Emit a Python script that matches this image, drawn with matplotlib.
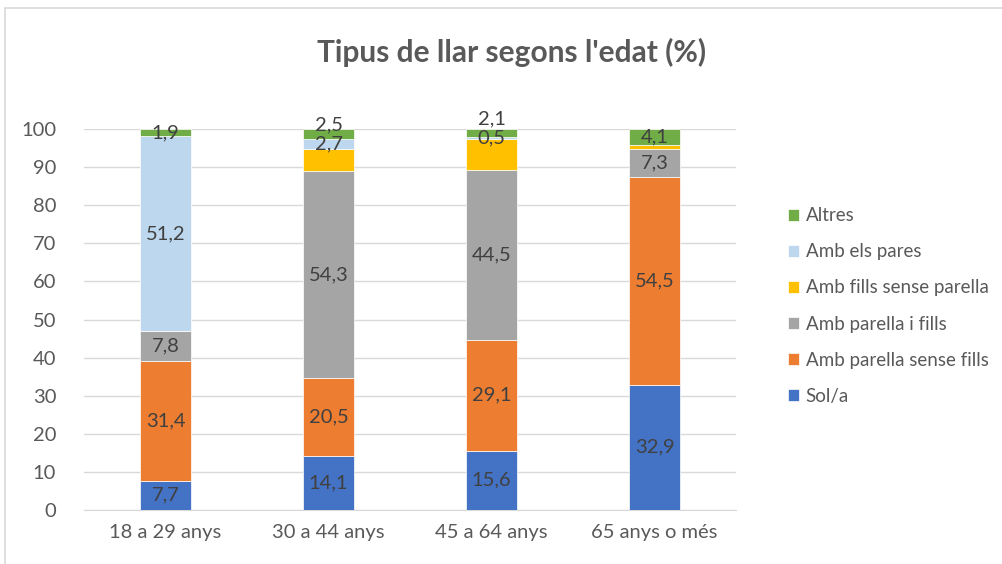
import matplotlib.pyplot as plt
import numpy as np
from matplotlib.patches import Rectangle

plt.rcParams['font.family'] = ['Lato', 'DejaVu Sans']

categories = ['18 a 29 anys', '30 a 44 anys', '45 a 64 anys', '65 anys o més']
series = ['Sol/a', 'Amb parella sense fills', 'Amb parella i fills',
          'Amb fills sense parella', 'Amb els pares', 'Altres']
sola = [7.7, 14.1, 15.6, 32.9]
parella_sense_fills = [31.4, 20.5, 29.1, 54.5]
parella_i_fills = [7.8, 54.3, 44.5, 7.3]
fills_sense_parella = [0.0, 5.9, 8.2, 1.2]
pares = [51.2, 2.7, 0.5, 0.0]
altres = [1.9, 2.5, 2.1, 4.1]
values = [sola, parella_sense_fills, parella_i_fills, fills_sense_parella, pares, altres]
colors = ['#4472C4', '#ED7D31', '#A5A5A5', '#FFC000', '#BDD7EE', '#70AD47']
show_labels = [True, True, True, False, True, True]

fig = plt.figure(figsize=(10.03, 5.64), dpi=100)
fig.patches.append(Rectangle((5 / 1003, -0.05), 1.1, 1 - 8 / 564 + 0.05,
                             transform=fig.transFigure, fill=False,
                             edgecolor='#D9D9D9', linewidth=1.2))
ax = fig.add_axes([84 / 1003, 1 - 510 / 564, 652 / 1003, 381 / 564])

x = np.arange(len(categories))
bottom = np.zeros(len(categories))
last_label = np.full(len(categories), -100.0)
handles = []
for name, vals, col, lab in zip(series, values, colors, show_labels):
    vals = np.array(vals)
    b = ax.bar(x, vals, width=0.31, bottom=bottom, color=col, label=name,
               edgecolor='white', linewidth=0.5, zorder=3)
    handles.append(b)
    if lab:
        for i, (xi, v, bt) in enumerate(zip(x, vals, bottom)):
            if v > 0:
                # push small labels up so they don't sit on the one below
                y = max(bt + v / 2, last_label[i] + 5)
                last_label[i] = y
                ax.text(xi, y, f'{v:.1f}'.replace('.', ','),
                        ha='center', va='center', fontsize=14.5,
                        color='#404040', zorder=4, clip_on=False)
    bottom += vals

ax.set_xlim(-0.5, len(categories) - 0.5)
ax.set_ylim(0, 100)
ax.set_yticks(range(0, 101, 10))
ax.set_xticks(x)
ax.set_xticklabels(categories)
ax.tick_params(axis='both', length=0, labelsize=14.5, colors='#595959')
ax.tick_params(axis='x', pad=10)
ax.tick_params(axis='y', pad=20)
ax.grid(axis='y', color='#D9D9D9', linewidth=1, zorder=0)
for s in ['top', 'right', 'left']:
    ax.spines[s].set_visible(False)
ax.spines['bottom'].set_color('#D9D9D9')

fig.text(512 / 1003, 1 - 52 / 564, "Tipus de llar segons l'edat (%)",
         ha='center', va='center', fontsize=21.5, fontweight='bold', color='#595959')

leg = fig.legend(handles[::-1], series[::-1], loc='center left',
                 bbox_to_anchor=(771 / 1003, 1 - 306 / 564), frameon=False,
                 fontsize=13.5, handlelength=0.6, handleheight=0.6,
                 handletextpad=0.35, labelspacing=1.02, labelcolor='#595959')

fig.savefig('out.png', dpi=100)
